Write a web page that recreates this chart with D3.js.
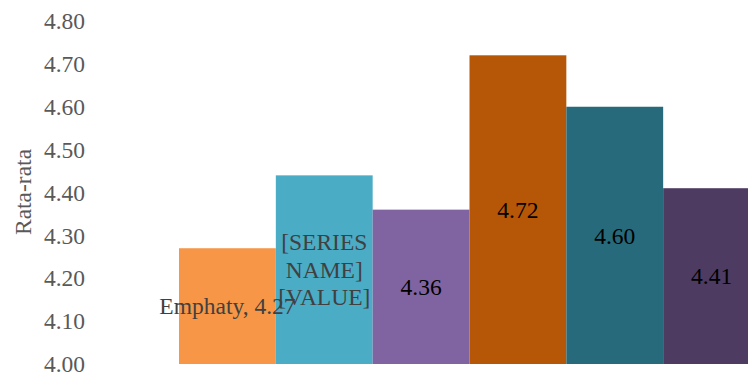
<!DOCTYPE html>
<html>
<head>
<meta charset="utf-8">
<script src="https://cdn.jsdelivr.net/npm/d3@7"></script>
<style>
  body { margin: 0; background: #fff; overflow: hidden; }
  svg { display: block; font-family: "Liberation Serif", "Times New Roman", serif; }
</style>
</head>
<body>
<div id="chart"></div>
<script>
// chart data
const series = ["Emphaty", "S2", "S3", "S4", "S5", "S6"];
const values = [4.27, 4.44, 4.36, 4.72, 4.60, 4.41];
const colors = ["#F79646", "#4BACC6", "#8064A2", "#B65708", "#276A7C", "#4D3B62"];
const labels = [["Emphaty, 4.27"], ["[SERIES", "NAME]", "[VALUE]"], ["4.36"], ["4.72"], ["4.60"], ["4.41"]];
const labelColors = ["#404040", "#404040", "#000", "#000", "#000", "#000"];
const yTicks = [4.0, 4.1, 4.2, 4.3, 4.4, 4.5, 4.6, 4.7, 4.8];

const width = 748;
const height = 374;

const svg = d3.select("#chart")
    .append("svg")
    .attr("width", width)
    .attr("height", height);

// scales
const x = d3.scaleBand()
    .domain(series)
    .range([179, 760])
    .padding(0);

const y = d3.scaleLinear()
    .domain([4.0, 4.8])
    .range([364, 21]);

// y axis labels only, no line
svg.append("g")
    .selectAll("text")
    .data(yTicks)
    .enter()
    .append("text")
    .attr("x", 85)
    .attr("y", (d) => y(d))
    .attr("dy", "0.35em")
    .attr("text-anchor", "end")
    .attr("fill", "#595959")
    .attr("font-size", "23.5px")
    .text((d) => d.toFixed(2));

svg.append("text")
    .attr("transform", `translate(31, 192) rotate(-90)`)
    .attr("text-anchor", "middle")
    .attr("fill", "#595959")
    .attr("font-size", "23.5px")
    .text("Rata-rata");

// bars
svg.selectAll("rect")
    .data(values)
    .enter()
    .append("rect")
    .attr("x", (d, i) => x(series[i]))
    .attr("y", (d) => y(d))
    .attr("width", x.bandwidth())
    .attr("height", (d) => y(4.0) - y(d))
    .attr("fill", (d, i) => colors[i]);

// data labels, centered in each bar
const lineH = 27.5;
values.forEach((v, i) => {
    const cx = x(series[i]) + x.bandwidth() / 2;
    const cy = (y(v) + y(4.0)) / 2;
    const lines = labels[i];
    const t = svg.append("text")
        .attr("text-anchor", "middle")
        .attr("fill", labelColors[i])
        .attr("font-size", "23.5px");
    lines.forEach((s, j) => {
        t.append("tspan")
            .attr("x", cx)
            .attr("y", cy + (j - (lines.length - 1) / 2) * lineH)
            .attr("dy", "0.35em")
            .text(s);
    });
});
</script>
</body>
</html>
